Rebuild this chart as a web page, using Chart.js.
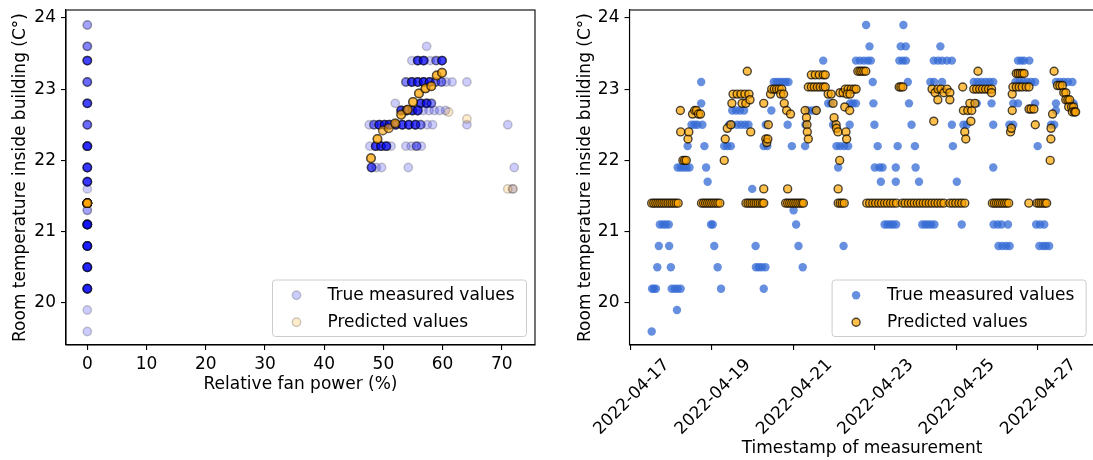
<!DOCTYPE html>
<html>
<head>
<meta charset="utf-8">
<title>Room temperature vs fan power and time</title>
<script src="https://cdn.jsdelivr.net/npm/chart.js@4.4.1/dist/chart.umd.min.js"></script>
<style>
  html, body { margin: 0; padding: 0; background: #fff; overflow: hidden; width: 1093px; height: 460px; }
  canvas { position: absolute; top: 0; }
  #fanChart { left: 0; }
  #timeChart { left: 560px; }
</style>
</head>
<body>
<canvas id="fanChart" width="548" height="460"></canvas>
<canvas id="timeChart" width="540" height="460"></canvas>
<script>
// ---- data -------------------------------------------------------------
const seriesLabels = ['True measured values', 'Predicted values'];
const tempTitle = 'Room temperature inside building (C°)';
const fanTitle = 'Relative fan power (%)';
const timeTitle = 'Timestamp of measurement';

const tempTicks = [20, 21, 22, 23, 24];
const fanTicks = [0, 10, 20, 30, 40, 50, 60, 70];
const dateTicks = ['2022-04-17', '2022-04-19', '2022-04-21', '2022-04-23', '2022-04-25', '2022-04-27'];
const dateTickHours = [0, 48, 96, 144, 192, 240];   // hours after 2022-04-17 00:00

// fan power (%) vs temperature (°C): [fan, temp, number of readings]
const fanMeasured = [
  [0,23.9,2],[0,23.6,3],[0,23.4,6],[0,23.1,4],[0,22.8,6],[0,22.5,4],[0,22.2,8],[0,21.9,7],
  [0,21.7,7],[0,21.6,1],[0,21.3,2],[0,21.1,12],[0,20.8,10],[0,20.5,9],[0,20.2,9],[0,19.9,1],[0,19.6,1],
  [57.3,23.6,1],
  [54.8,23.4,1],[55.8,23.4,6],[56.8,23.4,6],[57.9,23.4,1],[58.9,23.4,3],[59.9,23.4,6],
  [53.8,23.1,3],[54.8,23.1,6],[55.8,23.1,6],[56.8,23.1,7],[57.8,23.1,6],[58.8,23.1,3],[59.8,23.1,3],
  [60.6,23.1,1],[61.6,23.1,1],[64.1,23.1,1],
  [52.0,22.8,1],[56.3,22.8,6],[57.3,22.8,6],[58.1,22.8,3],
  [53.0,22.7,6],[53.9,22.7,6],[54.9,22.7,6],[55.8,22.7,6],[56.7,22.7,1],[57.7,22.7,1],[58.6,22.7,1],
  [59.5,22.7,1],[60.5,22.7,1],
  [47.6,22.5,1],[48.4,22.5,3],[49.3,22.5,6],[50.2,22.5,6],[51.0,22.5,6],[52.1,22.5,6],[53.2,22.5,6],
  [54.3,22.5,6],[55.4,22.5,6],[56.3,22.5,3],[57.4,22.5,1],[58.3,22.5,1],[64.1,22.5,1],[71.0,22.5,1],
  [47.7,22.2,1],[48.7,22.2,6],[49.6,22.2,6],[50.5,22.2,6],[51.3,22.2,1],[53.8,22.2,1],[54.7,22.2,1],
  [55.6,22.2,3],[56.4,22.2,1],
  [48.0,21.9,5],[48.8,21.9,1],[49.7,21.9,1],[54.2,21.9,1],[72.1,21.9,1],
  [71.8,21.6,1]
];
const fanPredicted = [
  [0,21.4,30],[47.9,22.03,6],[49.0,22.3,6],[49.9,22.42,4],[50.9,22.45,4],[52.0,22.52,6],[53.0,22.64,6],
  [54.1,22.71,6],[55.0,22.82,6],[56.0,22.94,6],[57.1,23.01,7],[58.1,23.04,6],[59.0,23.19,6],
  [59.9,23.23,6],[61.0,22.68,1],[64.1,22.58,1],[71.0,21.6,1],[71.9,21.6,1]
];

// time series: [hours after 2022-04-17 00:00, temp °C]
const timeMeasured = [
  [12.4,19.6],[12.6,20.2],[13.7,20.2],[14.9,20.2],[15.7,20.5],[16.6,20.8],[17.2,21.1],[19.0,21.1],
  [20.7,21.1],[22.5,21.1],[22.7,20.8],[23.7,20.5],[24.2,20.2],[26.0,20.2],[27.7,20.2],[29.5,20.2],
  [27.3,19.9],[27.7,21.9],[29.5,21.9],[31.2,21.9],[33.0,21.9],[34.7,21.9],[33.6,22.2],[35.9,22.5],
  [37.7,22.5],[39.4,22.5],[41.6,22.8],[41.6,23.1],[42.3,22.5],[43.5,22.2],[44.5,21.9],[45.4,21.7],
  [47.4,21.1],[48.4,21.1],[49.3,20.8],[51.3,20.5],[53.3,20.2],[55.2,22.2],[57.0,22.2],[59.1,22.2],
  [58.1,22.5],[59.9,22.5],[59.9,22.7],[62.2,22.7],[64.5,22.7],[66.9,22.7],[62.8,22.5],[65.1,22.5],
  [67.4,22.5],[69.5,22.5],[71.7,21.6],[73.7,20.8],[73.9,20.5],[75.6,20.5],[77.4,20.5],[79.5,20.5],
  [78.5,20.2],[78.5,22.2],[80.6,22.2],[79.7,22.5],[83.0,22.7],[84.4,23.1],[86.1,23.1],[87.9,23.1],
  [89.6,23.1],[91.4,23.1],[93.1,23.1],[92.6,22.5],[95.1,22.2],[96.1,21.3],[97.6,21.1],[99.0,20.8],
  [101.5,20.5],[102.9,22.2],[103.1,22.5],[104.8,22.7],[107.1,22.7],[109.5,22.7],[113.6,23.4],
  [116.5,22.8],[118.3,22.8],[119.4,22.5],[121.4,22.2],[123.6,22.2],[126.0,22.2],[128.3,22.2],
  [122.4,21.9],[125.6,20.8],[129.2,22.5],[129.4,22.8],[131.1,22.8],[132.9,22.8],[132.9,23.4],
  [135.2,23.4],[137.6,23.4],[139.9,23.4],[141.7,23.4],[138.9,23.9],[140.9,23.6],[142.8,23.1],
  [143.2,22.8],[143.8,22.5],[145.7,22.2],[144.0,21.9],[146.8,21.9],[148.6,21.9],[147.6,21.7],
  [149.8,21.1],[151.5,21.1],[153.3,21.1],[154.8,21.1],[156.6,21.1],[156.4,21.7],[156.4,21.9],
  [157.5,22.2],[158.5,23.4],[160.5,23.4],[162.4,23.4],[159.3,23.6],[162.3,23.6],[160.9,23.9],
  [163.5,23.1],[164.2,22.8],[165.7,22.5],[167.7,22.2],[168.1,21.9],[170.1,21.7],[172.0,21.1],
  [173.8,21.1],[175.5,21.1],[177.3,21.1],[179.2,21.1],[176.8,23.1],[178.8,23.4],[181.3,23.4],
  [183.7,23.4],[186.6,23.4],[189.5,23.4],[182.7,23.6],[179.0,23.1],[183.7,23.1],[189.5,22.5],
  [190.1,22.2],[192.4,21.7],[195.3,21.1],[196.3,22.5],[198.3,22.5],[204.2,22.8],[202.4,23.1],
  [204.7,23.1],[207.0,23.1],[209.4,23.1],[211.7,23.1],[213.9,23.1],[212.9,22.8],[213.9,22.5],
  [213.9,21.9],[214.1,21.1],[216.5,21.1],[218.8,21.1],[222.6,21.1],[217.0,20.8],[219.3,20.8],
  [221.6,20.8],[223.6,20.8],[223.4,22.5],[225.7,22.5],[225.7,22.8],[228.5,22.8],[227.0,23.1],
  [229.3,23.1],[231.6,23.1],[234.0,23.1],[236.3,23.1],[238.6,23.1],[228.5,23.4],[230.4,23.4],
  [232.1,23.4],[235.2,23.4],[238.6,22.8],[240.1,22.2],[239.2,21.1],[241.5,21.1],[244.0,21.1],
  [241.1,20.8],[243.3,20.8],[245.0,20.8],[246.9,20.8],[248.0,22.5],[249.9,22.5],[250.9,22.7],
  [250.9,22.8],[250.9,23.1],[253.2,23.1],[255.5,23.1],[257.9,23.1],[260.6,23.1],[261.3,22.8],
  [261.3,22.7]
];
const timePredicted = [
  [12.4,21.4],[13.6,21.4],[14.8,21.4],[16.0,21.4],[17.2,21.4],[18.4,21.4],[19.6,21.4],[20.8,21.4],
  [22.0,21.4],[23.2,21.4],[24.4,21.4],[25.6,21.4],[26.8,21.4],[28.0,21.4],
  [29.3,22.7],[29.5,22.4],[30.8,22.0],[31.8,22.0],[32.8,22.0],[33.8,22.3],[34.3,22.4],[36.5,22.65],
  [37.7,22.7],[38.8,22.7],[40.0,22.65],[41.2,22.65],
  [41.8,21.4],[43.0,21.4],[44.2,21.4],[45.4,21.4],[46.6,21.4],[47.8,21.4],[49.0,21.4],[50.2,21.4],
  [51.4,21.4],[52.6,21.4],
  [55.2,22.0],[55.8,22.3],[57.0,22.45],[59.1,22.5],[59.7,22.8],[60.4,22.93],[62.8,22.93],[65.1,22.93],
  [67.4,22.93],[69.8,22.93],[65.7,22.8],[67.9,22.8],[68.8,23.25],[70.4,22.85],[70.8,22.4],
  [68.0,21.4],[69.2,21.4],[70.4,21.4],[71.6,21.4],[72.8,21.4],[74.0,21.4],[75.2,21.4],[76.4,21.4],
  [77.6,21.4],[78.5,21.4],[78.5,21.6],
  [78.5,22.8],[79.7,22.3],[80.3,22.25],[80.9,22.3],[81.2,22.5],[82.5,22.93],[83.2,23.0],[84.7,23.0],
  [86.1,23.0],[87.6,23.0],[89.1,23.0],[88.5,22.93],[90.2,22.93],[90.6,22.8],[92.0,22.7],[94.3,22.65],
  [92.6,21.6],
  [91.4,21.4],[92.6,21.4],[93.8,21.4],[95.0,21.4],[96.2,21.4],[97.4,21.4],[98.6,21.4],[99.8,21.4],
  [101.0,21.4],[101.9,21.4],
  [102.9,22.7],[103.7,22.6],[104.0,22.5],[104.2,22.4],[104.8,22.3],[104.8,23.03],[106.6,23.03],
  [108.3,23.03],[110.1,23.03],[111.8,23.03],[113.6,23.03],[114.8,23.03],[106.6,23.2],[108.9,23.2],
  [111.3,23.2],[113.6,23.2],[114.8,23.2],[109.5,22.7],[116.5,22.93],[118.3,22.93],[119.4,22.8],
  [120.0,22.6],[121.2,22.5],[121.4,22.45],[122.3,22.4],[123.3,22.0],[123.5,22.95],[125.3,22.95],
  [126.3,22.75],[122.4,21.6],
  [122.4,21.4],[123.6,21.4],[124.8,21.4],[126.0,21.4],
  [127.0,22.4],[127.4,22.3],[129.2,22.7],[126.6,23.0],[128.3,23.0],[130.1,23.0],[131.8,23.0],
  [133.0,23.0],[127.7,22.93],[129.4,22.93],[134.0,23.25],[135.2,23.25],[136.3,23.25],[137.5,23.25],
  [138.7,23.25],
  [139.3,21.4],[141.0,21.4],[142.8,21.4],[144.5,21.4],[146.3,21.4],[148.0,21.4],[149.8,21.4],
  [151.5,21.4],[153.3,21.4],[155.0,21.4],[156.8,21.4],[160.3,21.4],[162.0,21.4],[163.8,21.4],
  [165.6,21.4],[167.3,21.4],[169.1,21.4],[170.8,21.4],[172.6,21.4],[174.3,21.4],[176.1,21.4],
  [177.8,21.4],[179.6,21.4],[181.3,21.4],[183.1,21.4],[184.8,21.4],[188.3,21.4],[190.1,21.4],
  [191.8,21.4],[193.6,21.4],[195.3,21.4],[197.1,21.4],
  [158.4,23.03],[159.4,23.03],[160.6,23.03],
  [178.8,22.55],[177.8,23.0],[179.6,22.95],[181.3,23.0],[183.1,23.0],[184.8,22.95],[186.6,23.0],
  [188.3,22.95],[181.2,22.85],[188.3,22.85],
  [195.9,23.03],[196.3,22.7],[197.1,22.4],[197.7,22.3],[198.9,22.7],[201.2,22.7],[200.1,22.8],
  [200.7,22.55],[204.9,23.25],[202.4,23.0],[204.1,23.0],[205.9,23.0],[207.6,23.0],[209.4,23.0],
  [211.1,23.0],[212.9,23.0],[203.1,22.8],[212.9,22.95],
  [213.4,21.4],[214.6,21.4],[215.8,21.4],[217.0,21.4],[218.2,21.4],[219.4,21.4],[220.6,21.4],
  [221.8,21.4],[223.0,21.4],
  [224.1,22.4],[224.6,22.45],[225.1,22.7],[225.1,22.93],[225.5,23.03],[227.5,23.03],[229.2,23.03],
  [231.0,23.03],[233.3,23.03],[235.0,23.03],[227.5,23.22],[228.6,23.22],[229.8,23.22],[231.0,23.22],
  [232.1,23.22],[235.0,22.72],[236.2,22.72],[237.9,22.72],[238.7,22.5],
  [234.9,21.4],[239.7,21.4],[240.9,21.4],[242.1,21.4],[243.3,21.4],[244.5,21.4],[245.4,21.4],
  [247.5,22.0],[247.9,22.3],[248.0,22.45],[248.9,22.65],[249.8,23.25],[251.8,23.05],[253.2,23.05],
  [254.7,23.05],[255.5,22.95],[256.7,22.95],[256.7,22.85],[257.9,22.85],[259.0,22.85],[258.4,22.75],
  [260.1,22.75],[261.3,22.75],[260.6,22.68],[261.9,22.68],[262.5,22.68]
];

// ---- helpers ----------------------------------------------------------
const FONT = { family: "'DejaVu Sans', sans-serif", size: 17 };

// repeat each [x, y, n] row n times as scatter points
function expandRows(rows) {
  const pts = [];
  rows.forEach(([x, y, n]) => { for (let i = 0; i < n; i++) pts.push({ x, y }); });
  return pts;
}
const toPoints = rows => rows.map(([x, y]) => ({ x, y }));

function axis(cfg) {
  const horizontal = !!cfg.horizontal;
  return {
    type: 'linear',
    position: horizontal ? 'bottom' : 'left',
    min: cfg.min,
    max: cfg.max,
    afterBuildTicks: s => { s.ticks = cfg.values.map(v => ({ value: v })); },
    afterFit: s => {
      if (horizontal) s.height = cfg.size; else s.width = cfg.size;
      s.paddingLeft = 0; s.paddingRight = 0; s.paddingTop = 0; s.paddingBottom = 0;
    },
    ticks: {
      color: '#000', font: FONT, padding: cfg.tickPad, autoSkip: false,
      minRotation: cfg.rotation || 0, maxRotation: cfg.rotation || 0,
      labelOffset: cfg.labelOffset || 0,
      callback: cfg.format
    },
    grid: {
      drawOnChartArea: false, drawTicks: true, tickLength: 5,
      color: '#000', lineWidth: 1.1, tickColor: '#000', tickWidth: 1.1
    },
    border: { display: true, color: '#000', width: 1.1 },
    title: { display: true, text: cfg.title, color: '#000', font: FONT, padding: cfg.titlePad }
  };
}

// closed frame round the plotting area
const axesFrame = {
  id: 'axesFrame',
  afterDatasetsDraw(chart) {
    const { ctx, chartArea: a } = chart;
    ctx.save();
    ctx.strokeStyle = '#000';
    ctx.lineWidth = 1.1;
    ctx.strokeRect(a.left, a.top, a.right - a.left, a.bottom - a.top);
    ctx.restore();
  }
};

// boxed legend in the lower right corner of the plotting area
const cornerLegend = {
  id: 'cornerLegend',
  afterDraw(chart, args, opts) {
    const { ctx, chartArea: a } = chart;
    const x0 = a.right - opts.inset - opts.width;
    const y0 = a.bottom - opts.inset - opts.height;
    ctx.save();
    ctx.beginPath();
    ctx.roundRect(x0, y0, opts.width, opts.height, 3);
    ctx.fillStyle = 'rgba(255,255,255,0.8)';
    ctx.fill();
    ctx.strokeStyle = '#cccccc';
    ctx.lineWidth = 1;
    ctx.stroke();
    chart.data.datasets.forEach((ds, i) => {
      const my = y0 + opts.firstRow + i * opts.rowGap;
      ctx.beginPath();
      ctx.arc(x0 + opts.markerX, my, ds.pointRadius, 0, Math.PI * 2);
      ctx.fillStyle = ds.pointBackgroundColor;
      ctx.fill();
      if (ds.pointBorderWidth > 0) {
        ctx.lineWidth = ds.pointBorderWidth;
        ctx.strokeStyle = ds.pointBorderColor;
        ctx.stroke();
      }
      ctx.fillStyle = '#000';
      ctx.font = `${FONT.size}px ${FONT.family}`;
      ctx.textBaseline = 'alphabetic';
      ctx.textAlign = 'left';
      ctx.fillText(ds.label, x0 + opts.textX, my + 5);
    });
    ctx.restore();
  }
};

const legendBox = { inset: 8.5, width: 254, height: 56.5, firstRow: 15.2, rowGap: 27, markerX: 24, textX: 55 };

function baseOptions(xAxis, yAxis) {
  return {
    responsive: false,
    animation: false,
    devicePixelRatio: 1,
    events: [],
    layout: { padding: { top: 10, left: 0, bottom: 0, right: 0 } },
    scales: { x: xAxis, y: yAxis },
    plugins: { legend: { display: false }, tooltip: { enabled: false }, cornerLegend: legendBox }
  };
}

// ---- fan power chart ---------------------------------------------------
const fanOptions = baseOptions(
  axis({ horizontal: true, min: -3.6, max: 75.6, values: fanTicks, size: 115, tickPad: 4,
         format: v => String(v), title: fanTitle, titlePad: { top: 0, bottom: 65 } }),
  axis({ min: 19.41, max: 24.11, values: tempTicks, size: 66, tickPad: 5,
         format: v => String(v), title: tempTitle, titlePad: { top: 10, bottom: 0 } })
);
fanOptions.layout.padding.right = 13;

new Chart(document.getElementById('fanChart'), {
  type: 'scatter',
  data: {
    datasets: [
      { label: seriesLabels[0], data: expandRows(fanMeasured), order: 2,
        pointRadius: 4.2, pointBorderWidth: 1.5,
        pointBackgroundColor: 'rgba(0,0,255,0.2)', pointBorderColor: 'rgba(0,0,0,0.2)' },
      { label: seriesLabels[1], data: expandRows(fanPredicted), order: 1,
        pointRadius: 4.2, pointBorderWidth: 1.5,
        pointBackgroundColor: 'rgba(255,165,0,0.2)', pointBorderColor: 'rgba(0,0,0,0.2)' }
    ]
  },
  options: fanOptions,
  plugins: [axesFrame, cornerLegend]
});

// ---- time series chart -------------------------------------------------
const timeOptions = baseOptions(
  axis({ horizontal: true, min: -0.7, max: 273.7, values: dateTickHours, size: 115, tickPad: 5,
         rotation: 45, labelOffset: 36,
         format: (v, i) => dateTicks[i], title: timeTitle, titlePad: { top: 0, bottom: 1 } }),
  axis({ min: 19.41, max: 24.11, values: tempTicks, size: 69.5, tickPad: 5,
         format: v => String(v), title: tempTitle, titlePad: { top: 15, bottom: 0 } })
);
timeOptions.layout.padding.right = 1;

new Chart(document.getElementById('timeChart'), {
  type: 'scatter',
  data: {
    datasets: [
      { label: seriesLabels[0], data: toPoints(timeMeasured), order: 2,
        pointRadius: 4.2, pointBorderWidth: 0,
        pointBackgroundColor: 'rgba(52,105,212,0.75)', pointBorderColor: 'rgba(52,105,212,0)' },
      { label: seriesLabels[1], data: toPoints(timePredicted), order: 1,
        pointRadius: 4, pointBorderWidth: 1.4,
        pointBackgroundColor: 'rgba(255,165,0,0.7)', pointBorderColor: 'rgba(0,0,0,0.7)' }
    ]
  },
  options: timeOptions,
  plugins: [axesFrame, cornerLegend]
});
</script>
</body>
</html>
